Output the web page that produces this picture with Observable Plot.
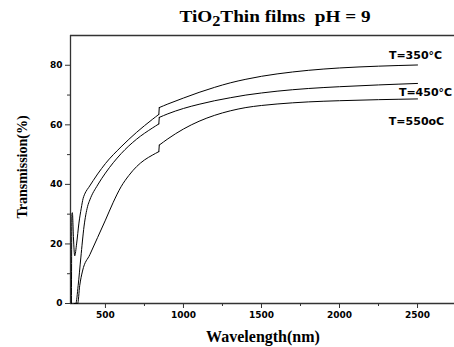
<!DOCTYPE html>
<html><head><meta charset="utf-8">
<script src="https://cdn.jsdelivr.net/npm/d3@7"></script>
<script src="https://cdn.jsdelivr.net/npm/@observablehq/plot@0.6"></script>
<style>
body{margin:0;background:#fff}
#wrap{position:relative;width:454px;height:347px;overflow:hidden;background:#fff}
.lbl{position:absolute;font-family:"Liberation Serif","Times New Roman",serif;font-weight:bold;color:#000;white-space:nowrap;line-height:1}
.lbl sub{font-size:0.85em;vertical-align:-0.3em;line-height:0}
</style></head><body>
<div id="wrap">
  <div class="lbl" style="left:275px;top:17px;font-size:16px;transform:translate(-50%,-50%) scaleX(1.2)">TiO<sub>2</sub>Thin films&nbsp; pH = 9</div>
  <div class="lbl" style="left:23px;top:167px;font-size:14px;transform:translate(-50%,-50%) rotate(-90deg)">Transmission(%)</div>
  <div class="lbl" style="left:263px;top:337px;font-size:16px;transform:translate(-50%,-50%)">Wavelength(nm)</div>
</div>
<script>
// Series: T = 350 °C
const wl350 = [282, 285, 288, 295, 303, 315, 330, 345, 357, 365, 375, 393, 450, 500, 600, 700, 800, 842, 845, 900, 1000, 1100, 1200, 1300, 1400, 1500, 1600, 1800, 2000, 2250, 2500];
const t350  = [0, 30, 30.5, 22, 16, 20, 27, 32, 35.3, 36.5, 37.6, 39, 43.5, 47, 52.6, 57.5, 61.8, 63.5, 65.8, 67.0, 69.0, 70.9, 72.6, 74.1, 75.3, 76.3, 77.1, 78.3, 79.1, 79.7, 80.1];
// Series: T = 450 °C
const wl450 = [300, 310, 325, 342, 363, 385, 400, 450, 500, 600, 700, 800, 842, 845, 900, 1000, 1100, 1200, 1300, 1400, 1500, 1600, 1800, 2000, 2250, 2500];
const t450  = [0, 0, 6, 15.3, 26, 32.5, 34.8, 39.8, 43.8, 50.3, 55.2, 58.9, 60.3, 62.5, 63.7, 65.5, 66.9, 68.1, 69.1, 70.0, 70.7, 71.3, 72.2, 72.8, 73.4, 73.9];
// Series: T = 550 °C
const wl550 = [315, 322, 335, 353, 400, 450, 500, 550, 600, 650, 700, 750, 800, 842, 845, 900, 1000, 1100, 1200, 1300, 1400, 1500, 1600, 1800, 2000, 2250, 2500];
const t550  = [0, 0, 6, 10.9, 16.4, 22.2, 28, 34, 39.2, 43, 46, 48.2, 49.8, 51, 53.2, 55.3, 58.6, 61.2, 63.2, 64.7, 65.8, 66.5, 67.0, 67.7, 68.1, 68.45, 68.7];

const seriesNames = ["T=350°C", "T=450°C", "T=550oC"];
const jumpFrom = 842, jumpTo = 845; // detector change step
const xTicks = [500, 1000, 1500, 2000, 2500];
const xMinor = [750, 1250, 1750, 2250];
const yTicks = [0, 20, 40, 60, 80];
const yMinor = [10, 30, 50, 70];

const series = [[wl350, t350], [wl450, t450], [wl550, t550]];
const rows = series.flatMap(([w, t], i) => w.map((x, j) => ({s: seriesNames[i], seg: seriesNames[i] + (x <= jumpFrom ? "a" : "b"), wl: x, t: t[j]})));
const links = rows.filter(r => r.wl === jumpFrom || r.wl === jumpTo);
const ends = series.map(([w, t], i) => ({s: seriesNames[i], wl: w[w.length - 1], t: t[t.length - 1]}));

const labelOffsets = [[-2, -10], [8, 9], [-1, 23]];
const txt = {fontFamily: "DejaVu Sans", fontWeight: "bold", fontSize: 11, fill: "#000"};

const plot = Plot.plot({
  width: 454, height: 347,
  marginLeft: 70, marginRight: 0, marginTop: 35, marginBottom: 44,
  x: {domain: [276, 2737]},
  y: {domain: [0, 90]},
  style: {fontFamily: "DejaVu Sans", fontWeight: "bold", fontSize: "9px", color: "#000", background: "transparent"},
  marks: [
    Plot.axisX({ticks: xTicks, tickSize: 5, tickPadding: 3, label: null, tickFormat: d => String(d), stroke: "#333"}),
    Plot.axisX({ticks: xMinor, tickSize: 3, label: null, tickFormat: () => "", stroke: "#333"}),
    Plot.axisY({ticks: yTicks, tickSize: 5, tickPadding: 3, label: null, tickFormat: d => String(d), stroke: "#333"}),
    Plot.axisY({ticks: yMinor, tickSize: 3, label: null, tickFormat: () => "", stroke: "#333"}),
    Plot.ruleY([0, 90], {stroke: "#333", strokeWidth: 1.3}),
    Plot.ruleX([276], {stroke: "#333", strokeWidth: 1.3}),
    Plot.line(rows, {x: "wl", y: "t", z: "seg", curve: "monotone-x", stroke: "#000", strokeWidth: 1}),
    Plot.line(links, {x: "wl", y: "t", z: "s", stroke: "#000", strokeWidth: 1}),
    ...ends.map((e, i) => Plot.text([e], {x: "wl", y: "t", text: "s", dx: labelOffsets[i][0], dy: labelOffsets[i][1], ...txt}))
  ]
});
plot.style.position = "absolute";
plot.style.left = "0";
plot.style.top = "0";
document.getElementById("wrap").prepend(plot);
</script>
</body></html>
